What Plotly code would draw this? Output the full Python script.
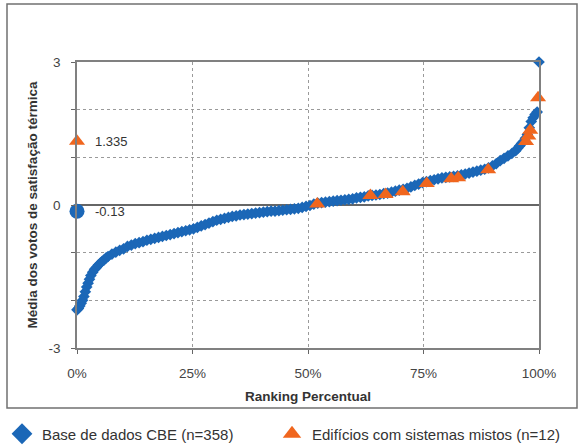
import plotly.graph_objects as go

# Ranking percentile (0..1) and mean thermal-satisfaction vote, CBE database
cbe_rank = [0.000, 0.003, 0.006, 0.009, 0.012, 0.015, 0.018, 0.021, 0.024, 0.027,
            0.030, 0.034, 0.038, 0.042, 0.0462, 0.0504, 0.0546, 0.0588, 0.0630, 0.0672,
            0.0756, 0.0840, 0.0924, 0.1008, 0.1092, 0.1176, 0.1261, 0.1345, 0.1429, 0.1513,
            0.1597, 0.1681, 0.1765, 0.1849, 0.1933, 0.2017, 0.2101, 0.2185, 0.2269, 0.2353,
            0.2437, 0.2521, 0.2605, 0.2689, 0.2773, 0.2857, 0.2941, 0.3025, 0.3109, 0.3193,
            0.3277, 0.3361, 0.3445, 0.3529, 0.3613, 0.3697, 0.3782, 0.3866, 0.3950, 0.4034,
            0.4118, 0.4202, 0.4286, 0.4370, 0.4454, 0.4538, 0.4622, 0.4706, 0.4790, 0.4874,
            0.4958, 0.5042, 0.5126, 0.5210, 0.5294, 0.5378, 0.5462, 0.5546, 0.5630, 0.5714,
            0.5798, 0.5882, 0.5966, 0.6050, 0.6134, 0.6218, 0.6303, 0.6387, 0.6471, 0.6555,
            0.6639, 0.6723, 0.6807, 0.6891, 0.6975, 0.7059, 0.7143, 0.7227, 0.7311, 0.7395,
            0.7479, 0.7563, 0.7647, 0.7731, 0.7815, 0.7899, 0.7983, 0.8067, 0.8151, 0.8235,
            0.8319, 0.8403, 0.8487, 0.8571, 0.8655, 0.8739, 0.8824, 0.8908, 0.8992, 0.9076,
            0.9160, 0.9244, 0.9328, 0.9412, 0.9496, 0.9538, 0.9580, 0.9622, 0.9664, 0.9706,
            0.9748, 0.9790, 0.9832, 0.9874, 0.9916, 0.9960, 1.0000]
cbe_vote = [-2.20, -2.17, -2.12, -2.06, -2.00, -1.92, -1.82, -1.72, -1.64, -1.56,
            -1.48, -1.41, -1.35, -1.31, -1.26, -1.22, -1.18, -1.15, -1.11, -1.08,
            -1.03, -0.99, -0.95, -0.92, -0.87, -0.84, -0.81, -0.79, -0.77, -0.74,
            -0.72, -0.70, -0.68, -0.66, -0.64, -0.62, -0.60, -0.58, -0.56, -0.54,
            -0.52, -0.50, -0.47, -0.44, -0.41, -0.38, -0.35, -0.32, -0.30, -0.28,
            -0.26, -0.24, -0.23, -0.21, -0.20, -0.19, -0.18, -0.17, -0.16, -0.15,
            -0.14, -0.13, -0.13, -0.12, -0.11, -0.10, -0.09, -0.08, -0.07, -0.05,
            -0.03, -0.01, 0.02, 0.04, 0.05, 0.06, 0.07, 0.08, 0.09, 0.10,
            0.11, 0.12, 0.13, 0.15, 0.16, 0.17, 0.19, 0.20, 0.21, 0.22,
            0.24, 0.25, 0.27, 0.29, 0.31, 0.33, 0.35, 0.38, 0.41, 0.44,
            0.47, 0.49, 0.51, 0.53, 0.55, 0.57, 0.58, 0.59, 0.60, 0.61,
            0.63, 0.65, 0.67, 0.69, 0.71, 0.73, 0.75, 0.78, 0.82, 0.87,
            0.93, 0.98, 1.03, 1.08, 1.14, 1.19, 1.24, 1.29, 1.33, 1.40,
            1.48, 1.62, 1.75, 1.83, 1.90, 1.95, 3.00]

# Mixed-mode buildings (n=12)
mixed_rank = [0.520, 0.635, 0.668, 0.705, 0.757, 0.810, 0.825, 0.890, 0.972, 0.977, 0.981, 0.998]
mixed_vote = [0.02, 0.20, 0.22, 0.28, 0.45, 0.55, 0.57, 0.74, 1.33, 1.45, 1.57, 2.25]

# Means shown at the y axis
mean_mixed = 1.335
mean_cbe = -0.13

x_ticks = [0, 0.25, 0.5, 0.75, 1.0]
x_tick_text = ["0%", "25%", "50%", "75%", "100%"]
y_ticks = [-3, -2, -1, 0, 1, 2, 3]
y_tick_text = ["-3", "", "", "0", "", "", "3"]

BLUE = "#1b67b7"
ORANGE = "#f0661e"
FONT = "Liberation Sans, Arial, sans-serif"

fig = go.Figure()

fig.add_trace(go.Scatter(x=cbe_rank, y=cbe_vote, mode="markers",
                         marker=dict(symbol="diamond", size=9, color=BLUE),
                         showlegend=False, cliponaxis=False))
fig.add_trace(go.Scatter(x=mixed_rank, y=mixed_vote, mode="markers",
                         marker=dict(symbol="triangle-up", size=14, color=ORANGE),
                         showlegend=False, cliponaxis=False))
fig.add_trace(go.Scatter(x=[0], y=[mean_mixed], mode="markers",
                         marker=dict(symbol="triangle-up", size=14, color=ORANGE),
                         showlegend=False, cliponaxis=False))
fig.add_trace(go.Scatter(x=[0], y=[mean_cbe], mode="markers",
                         marker=dict(symbol="circle", size=15, color=BLUE),
                         showlegend=False, cliponaxis=False))

# legend-only entries (each in its own legend box so they sit side by side)
fig.add_trace(go.Scatter(x=[None], y=[None], mode="markers", name="Base de dados CBE (n=358)",
                         marker=dict(symbol="diamond", size=16, color=BLUE), legend="legend"))
fig.add_trace(go.Scatter(x=[None], y=[None], mode="markers", name="Edifícios com sistemas mistos (n=12)",
                         marker=dict(symbol="triangle-up", size=22, color=ORANGE), legend="legend2"))

fig.add_annotation(x=0, y=mean_mixed, text=f"{mean_mixed:.3f}", xanchor="left", xshift=16,
                   showarrow=False, font=dict(family=FONT, size=13, color="#333"))
fig.add_annotation(x=0, y=mean_cbe, text=f"{mean_cbe:.2f}", xanchor="left", xshift=16,
                   showarrow=False, font=dict(family=FONT, size=13, color="#333"))

# outer frame (plot area spans px 77..539 horizontally, 62..348 vertically)
fig.add_shape(type="rect", xref="paper", yref="paper",
              x0=(7 - 77) / 462, x1=(577 - 77) / 462,
              y0=(348 - 408) / 286, y1=(348 - 4) / 286,
              line=dict(color="#707070", width=1.5), layer="below")

legend_y = (348 - 434) / 286
fig.update_layout(
    width=578, height=446,
    margin=dict(l=77, r=39, t=62, b=98, autoexpand=False),
    paper_bgcolor="white", plot_bgcolor="white",
    font=dict(family=FONT, size=13, color="#333"),
    legend=dict(orientation="h", x=(2 - 77) / 462, xanchor="left", y=legend_y, yanchor="middle",
                font=dict(size=15, color="#333"), bgcolor="rgba(0,0,0,0)"),
    legend2=dict(orientation="h", x=(272 - 77) / 462, xanchor="left", y=legend_y, yanchor="middle",
                 font=dict(size=15, color="#333"), bgcolor="rgba(0,0,0,0)"),
    xaxis=dict(range=[0, 1], tickvals=x_ticks, ticktext=x_tick_text,
               showgrid=True, gridcolor="#9a9a9a", griddash="dot", gridwidth=1,
               showline=True, linecolor="#808080", linewidth=1.5, mirror=True,
               ticks="outside", ticklen=4, tickcolor="#666",
               zeroline=False, tickfont=dict(size=13.5, color="#444"), ticklabelstandoff=8,
               title=dict(text="<b>Ranking Percentual</b>", font=dict(size=13.5, color="#333"), standoff=12)),
    yaxis=dict(range=[-3, 3], tickvals=y_ticks, ticktext=y_tick_text,
               showgrid=True, gridcolor="#9a9a9a", griddash="dot", gridwidth=1,
               showline=True, linecolor="#808080", linewidth=1.5, mirror=True,
               ticks="outside", ticklen=4, tickcolor="#666",
               zeroline=True, zerolinecolor="#666", zerolinewidth=1.5,
               tickfont=dict(size=13.5, color="#444"), ticklabelstandoff=8,
               title=dict(text="<b>Média dos votos de satisfação térmica</b>",
                          font=dict(size=13.5, color="#333"), standoff=8)),
)

fig.write_html("out.html", config={"displayModeBar": False},
               post_script="document.body.style.margin='0';")
